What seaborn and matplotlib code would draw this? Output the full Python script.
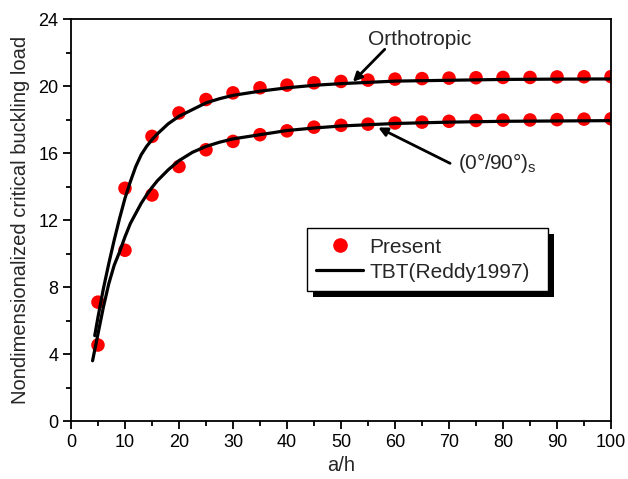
import matplotlib
matplotlib.use("Agg")
import matplotlib.pyplot as plt
import seaborn as sns
import pandas as pd
from matplotlib.ticker import MultipleLocator
from matplotlib.lines import Line2D
from matplotlib.patches import Rectangle

# ---- data ----
ah_points = [5, 10, 15, 20, 25, 30, 35, 40, 45, 50, 55, 60, 65, 70, 75, 80, 85, 90, 95, 100]
ortho_present = [7.1, 13.9, 17.0, 18.4, 19.2, 19.6, 19.9, 20.06, 20.2, 20.28, 20.36, 20.42,
                 20.45, 20.48, 20.5, 20.52, 20.52, 20.55, 20.56, 20.57]
cross_present = [4.54, 10.2, 13.5, 15.2, 16.2, 16.7, 17.1, 17.33, 17.55, 17.66, 17.73, 17.8,
                 17.85, 17.9, 17.95, 17.97, 17.98, 18.0, 18.03, 18.05]

ortho_line_x = [4.4, 5, 6, 7, 8, 9, 10, 11, 12, 13, 14, 15, 16, 18, 20, 22.5, 25, 27.5, 30,
                35, 40, 45, 50, 60, 70, 80, 90, 100]
ortho_line_y = [5.1, 6.2, 7.9, 9.4, 10.8, 12.1, 13.3, 14.3, 15.2, 15.9, 16.4, 16.8, 17.15,
                17.75, 18.2, 18.6, 19.0, 19.25, 19.45, 19.7, 19.9, 20.05, 20.15, 20.3, 20.35,
                20.4, 20.42, 20.43]
cross_line_x = [4, 5, 6, 7, 8, 9, 10, 11, 12, 13, 14, 15, 16, 18, 20, 22.5, 25, 27.5, 30,
                35, 40, 45, 50, 60, 70, 80, 90, 100]
cross_line_y = [3.6, 5.2, 6.8, 8.2, 9.3, 10.1, 11.0, 11.8, 12.4, 13.0, 13.5, 13.95, 14.35,
                15.0, 15.55, 16.05, 16.4, 16.65, 16.85, 17.1, 17.35, 17.5, 17.62, 17.77,
                17.85, 17.9, 17.92, 17.94]

x_ticks = [0, 10, 20, 30, 40, 50, 60, 70, 80, 90, 100]
y_ticks = [0, 4, 8, 12, 16, 20, 24]

# ---- style ----
sns.set_theme(style="white")
plt.rcParams["font.family"] = ["Liberation Sans", "DejaVu Sans"]
plt.rcParams["mathtext.fontset"] = "custom"
plt.rcParams["mathtext.rm"] = "Liberation Sans"
plt.rcParams["mathtext.it"] = "Liberation Sans:italic"

fig = plt.figure(figsize=(6.28, 4.79), dpi=100)
ax = fig.add_axes([0.113, 0.121, 0.860, 0.839])

pts = pd.DataFrame({
    "ah": ah_points * 2,
    "val": ortho_present + cross_present,
    "case": ["Orthotropic"] * len(ah_points) + ["Cross"] * len(ah_points),
})
lines = pd.DataFrame({
    "ah": ortho_line_x + cross_line_x,
    "val": ortho_line_y + cross_line_y,
    "case": ["Orthotropic"] * len(ortho_line_x) + ["Cross"] * len(cross_line_x),
})

sns.scatterplot(data=pts, x="ah", y="val", style="case", ax=ax, color="#ff0000",
                markers={"Orthotropic": "o", "Cross": "o"}, s=95, linewidth=0,
                legend=False, zorder=2)
sns.lineplot(data=lines, x="ah", y="val", units="case", estimator=None, ax=ax,
             color="black", linewidth=2.3, legend=False, zorder=3, sort=False)

ax.set_xlim(0, 100)
ax.set_ylim(0, 24)
ax.set_xticks(x_ticks)
ax.set_yticks(y_ticks)
ax.xaxis.set_minor_locator(MultipleLocator(5))
ax.yaxis.set_minor_locator(MultipleLocator(2))
ax.tick_params(which="major", direction="out", length=6, width=1.3, labelsize=13,
               bottom=True, left=True, top=False, right=False, pad=3, colors="black")
ax.tick_params(which="minor", direction="out", length=3.5, width=1.3,
               bottom=True, left=True, top=False, right=False, colors="black")
for sp in ax.spines.values():
    sp.set_visible(True)
    sp.set_color("black")
    sp.set_linewidth(1.3)

ax.set_xlabel("a/h", fontsize=14.5, labelpad=4)
ax.set_ylabel("Nondimensionalized critical buckling load", fontsize=14.5, labelpad=6)

# annotations
arrow = dict(arrowstyle="-|>", color="black", lw=2, mutation_scale=13, shrinkA=0, shrinkB=0)
ax.text(55.0, 22.2, "Orthotropic", fontsize=15, ha="left", va="bottom")
ax.annotate("", xy=(52.2, 20.26), xytext=(58.1, 22.2), arrowprops=arrow)
ax.text(71.6, 15.4, r"(0°/90°)$_\mathrm{s}$", fontsize=15, ha="left", va="center")
ax.annotate("", xy=(56.9, 17.53), xytext=(70.2, 15.39), arrowprops=arrow)

# legend
handles = [
    Line2D([], [], marker="o", color="#ff0000", linestyle="none", markersize=9.5),
    Line2D([], [], color="black", linewidth=2.3),
]
leg = ax.legend(handles, ["Present", "TBT(Reddy1997)"], loc="upper left",
                bbox_to_anchor=(0.437, 0.331, 0.446, 0.149), mode="expand",
                fontsize=15, frameon=True, fancybox=False, edgecolor="black",
                framealpha=1, handlelength=2.25, handletextpad=0.3, borderpad=0.45,
                borderaxespad=0, labelspacing=0.3)
leg.get_frame().set_linewidth(1.0)
leg.set_zorder(5)

# legend drop shadow
fig.canvas.draw()
bb = leg.get_window_extent()
shadow = Rectangle((bb.x0 + 6, bb.y0 - 6), bb.width, bb.height, transform=None,
                   facecolor="black", edgecolor="none", zorder=4)
ax.add_artist(shadow)

fig.savefig("out.png", dpi=100)
